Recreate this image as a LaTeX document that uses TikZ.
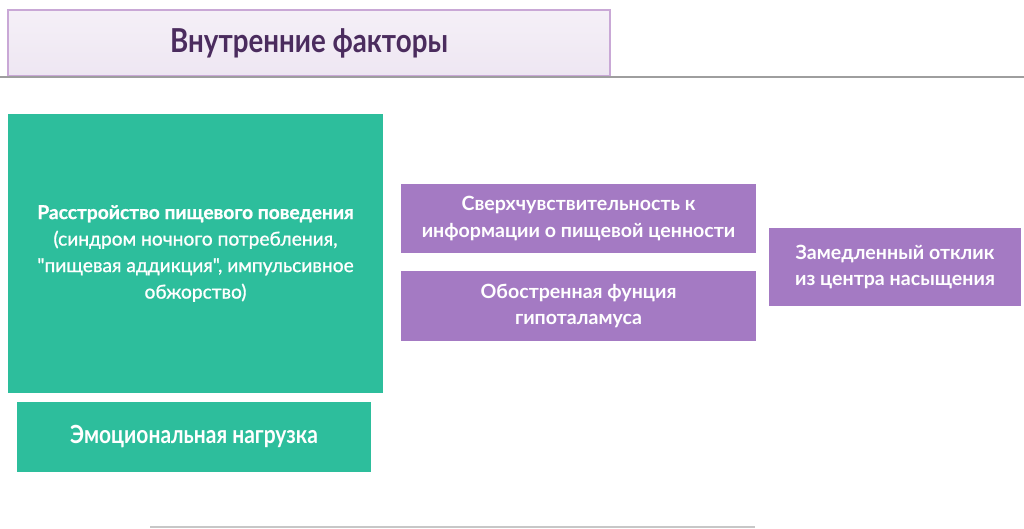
\documentclass[tikz,border=0pt]{standalone}
\usepackage{fontspec}
\setmainfont{Lato}[Ligatures=TeXOff]
\newfontfamily\narrowfont[FakeStretch=0.84]{Lato}
\newfontfamily\mediumfont[FakeBold=1,Ligatures=TeXOff]{Lato}
\definecolor{mint}{HTML}{2DBE9C}
\definecolor{lilac}{HTML}{A47AC3}
\definecolor{plum}{HTML}{4B2C5E}
\definecolor{haze}{HTML}{EEE6F2}
\definecolor{hazeline}{HTML}{C9A8D6}

\begin{document}
\begin{tikzpicture}[x=1pt, y=-1pt]
\tikzstyle{factor}=[rectangle, fill=lilac, text=white, align=center,
                        inner sep=0pt, font=\fontsize{19.6}{26.5}\selectfont\bfseries]
\tikzstyle{disorder}=[rectangle, fill=mint, text=white, align=center,
                        inner sep=0pt, font=\fontsize{19.2}{26.5}\selectfont\mediumfont]
\useasboundingbox[fill=white] (0,0) rectangle (1024,529);
	\node[rectangle, draw=hazeline, line width=1.2pt, top color=haze!60, bottom color=haze,
		minimum width=602pt, minimum height=66pt, text=plum,
		font=\fontsize{33}{36}\selectfont\narrowfont\bfseries] (title) at (309,43){Внутренние факторы};
	\coordinate (ruleL) at (0,77);
	\coordinate (ruleR) at (1024,77);
	\node[disorder, minimum width=375pt, minimum height=279pt] (ED) at (195.5,253.5)
		{{\bfseries Расстройство пищевого поведения}\\(синдром ночного потребления,\\"пищевая аддикция", импульсивное\\обжорство)};
	\node[disorder, minimum width=354pt, minimum height=70pt,
		font=\fontsize{25}{28}\selectfont\narrowfont\bfseries] (EL) at (194,437){Эмоциональная нагрузка};
	\node[factor, minimum width=355pt, minimum height=69pt] (HS) at (578.5,218.5)
		{Сверхчувствительность к\\информации о пищевой ценности};
	\node[factor, minimum width=355pt, minimum height=70pt] (HT) at (578.5,306)
		{Обостренная фунция\\гипоталамуса};
	\node[factor, minimum width=252pt, minimum height=78pt] (SR) at (895,267)
		{Замедленный отклик\\из центра насыщения};
	\coordinate (footL) at (150,527);
	\coordinate (footR) at (755,527);
\draw[black!38, line width=2pt] (ruleL)--(ruleR);
\draw[black!22, line width=1.5pt] (footL)--(footR);
\end{tikzpicture}
\end{document}
